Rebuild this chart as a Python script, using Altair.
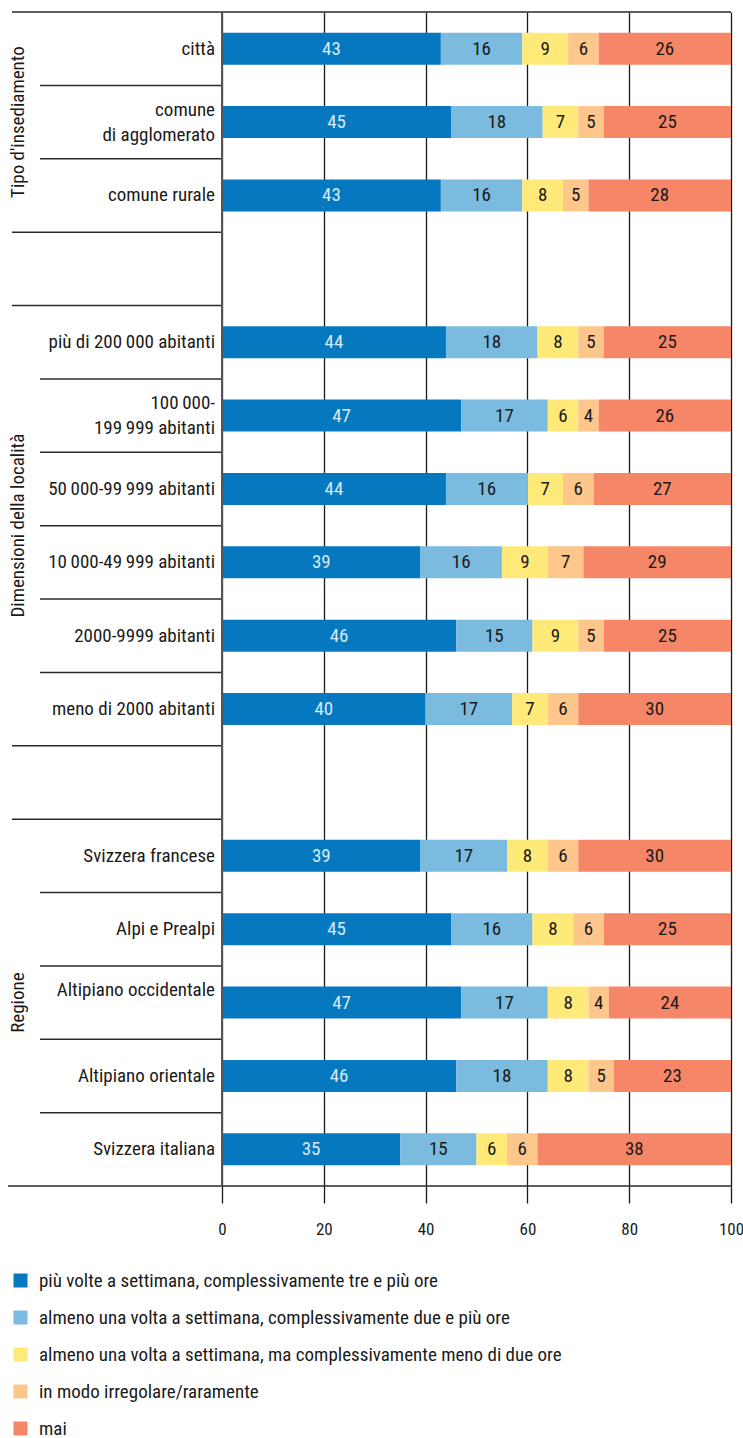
import altair as alt
import pandas as pd

# Row labels, grouped; a blank row separates consecutive groups
group_titles = ["Tipo d'insediamento", "Dimensioni della località", "Regione"]
group_labels = [
    ["città", "comune\ndi agglomerato", "comune rurale"],
    [
        "più di 200\u2009000 abitanti",
        "100\u2009000-\n199\u2009999 abitanti",
        "50\u2009000-99\u2009999 abitanti",
        "10\u2009000-49\u2009999 abitanti",
        "2000-9999 abitanti",
        "meno di 2000 abitanti",
    ],
    [
        "Svizzera francese",
        "Alpi e Prealpi",
        "Altipiano occidentale\n",
        "Altipiano orientale",
        "Svizzera italiana",
    ],
]

series_names = [
    "più volte a settimana, complessivamente tre e più ore",
    "almeno una volta a settimana, complessivamente due e più ore",
    "almeno una volta a settimana, ma complessivamente meno di due ore",
    "in modo irregolare/raramente",
    "mai",
]
series_colors = ["#0678bf", "#7bbbdf", "#ffe978", "#fdc68b", "#f58667"]

# Percentages per row, in the row order above
piu_volte_tre_ore = [43, 45, 43, 44, 47, 44, 39, 46, 40, 39, 45, 47, 46, 35]
almeno_due_ore = [16, 18, 16, 18, 17, 16, 16, 15, 17, 17, 16, 17, 18, 15]
meno_di_due_ore = [9, 7, 8, 8, 6, 7, 9, 9, 7, 8, 8, 8, 8, 6]
irregolare = [6, 5, 5, 5, 4, 6, 7, 5, 6, 6, 6, 4, 5, 6]
mai = [26, 25, 28, 25, 26, 27, 29, 25, 30, 30, 25, 24, 23, 38]
series_values = [piu_volte_tre_ore, almeno_due_ore, meno_di_due_ore, irregolare, mai]

FONT = "Liberation Sans Narrow, Arial Narrow, Roboto Condensed, sans-serif"
W, H = 509, 1174

# ---- assign a row slot to every label ----
labels, rows, titles, inner_lines, group_lines = [], [], [], [], []
r = 0
for gi, (title, lbls) in enumerate(zip(group_titles, group_labels)):
    start = r
    group_lines.append(start)
    for j, lab in enumerate(lbls):
        labels.append(lab)
        rows.append(r)
        if j > 0:
            inner_lines.append(r)
        r += 1
    titles.append({"title": title, "y": (start + r) / 2})
    if gi < len(group_titles) - 1:
        group_lines.append(r)
        r += 1
n_rows = r

# multi-line labels: each line becomes its own text, block centred on the row
line_step = 25 / (H / n_rows)
line_recs = []
for lab, row in zip(labels, rows):
    parts = lab.split("\n")
    n = len(parts)
    for j, part in enumerate(parts):
        if part:
            line_recs.append({"label": part, "y": row + 0.5 + (j - (n - 1) / 2) * line_step})
label_df = pd.DataFrame(line_recs)
title_df = pd.DataFrame(titles)
inner_df = pd.DataFrame({"y": inner_lines})
group_df = pd.DataFrame({"y": group_lines})
bottom_df = pd.DataFrame({"y": [n_rows]})

bar_half = 0.218
recs = []
for i, row in enumerate(rows):
    acc = 0
    for k, name in enumerate(series_names):
        v = series_values[k][i]
        recs.append({
            "serie": name,
            "ord": k,
            "value": v,
            "x0": acc,
            "x1": acc + v,
            "mid": acc + v / 2,
            "ya": row + 0.5 - bar_half,
            "yb": row + 0.5 + bar_half,
            "yc": row + 0.5,
            "dark": k == 0,
        })
        acc += v
bars_df = pd.DataFrame(recs)

y_scale = alt.Scale(domain=[0, n_rows], reverse=True, nice=False, zero=False)
x_scale = alt.Scale(domain=[0, 100], nice=False)

bars = alt.Chart(bars_df).mark_bar().encode(
    x=alt.X(
        "x0:Q",
        scale=x_scale,
        axis=alt.Axis(
            values=[0, 20, 40, 60, 80, 100],
            title=None,
            grid=True,
            gridColor="#1a1a1a",
            gridWidth=1.3,
            domain=False,
            tickColor="#1a1a1a",
            tickWidth=1.3,
            tickSize=17,
            labelPadding=18,
            labelFontSize=17,
            labelColor="#1a1a1a",
            labelFont=FONT,
            labelFlush=False,
        ),
    ),
    x2="x1:Q",
    y=alt.Y("ya:Q", scale=y_scale, axis=None),
    y2="yb:Q",
    color=alt.Color(
        "serie:N",
        scale=alt.Scale(domain=series_names, range=series_colors),
        legend=alt.Legend(
            title=None,
            orient="none",
            legendX=-211,
            legendY=1259,
            direction="vertical",
            symbolType="square",
            symbolSize=196,
            symbolStrokeWidth=0,
            labelFontSize=19,
            labelFont=FONT,
            labelColor="#1a1a1a",
            labelOffset=9,
            rowPadding=17,
            padding=0,
            labelLimit=700,
        ),
    ),
    order="ord:Q",
)

seg_text = alt.Chart(bars_df).mark_text(
    fontSize=19, font=FONT, baseline="middle", align="center"
).encode(
    x=alt.X("mid:Q", scale=x_scale),
    y=alt.Y("yc:Q", scale=y_scale),
    text="value:Q",
    color=alt.condition("datum.dark", alt.value("#d6eaf6"), alt.value("#1a1a1a")),
)

row_labels = alt.Chart(label_df).mark_text(
    fontSize=19, font=FONT, align="right", baseline="middle", color="#1a1a1a",
).encode(
    x=alt.value(-7),
    y=alt.Y("y:Q", scale=y_scale),
    text="label:N",
)

group_text = alt.Chart(title_df).mark_text(
    fontSize=19, font=FONT, angle=270, align="center", baseline="middle",
    color="#1a1a1a",
).encode(
    x=alt.value(-204),
    y=alt.Y("y:Q", scale=y_scale),
    text="title:N",
)

inner_rules = alt.Chart(inner_df).mark_rule(color="#2a2a2a", strokeWidth=1.5).encode(
    x=alt.value(-182), x2=alt.value(0), y=alt.Y("y:Q", scale=y_scale)
)
group_rules = alt.Chart(group_df).mark_rule(color="#2a2a2a", strokeWidth=1.5).encode(
    x=alt.value(-210), x2=alt.value(0), y=alt.Y("y:Q", scale=y_scale)
)
top_rule = alt.Chart(pd.DataFrame({"y": [0]})).mark_rule(color="#2a2a2a", strokeWidth=1.5).encode(
    x=alt.value(0), x2=alt.value(W), y=alt.Y("y:Q", scale=y_scale)
)
bottom_rule = alt.Chart(bottom_df).mark_rule(color="#2a2a2a", strokeWidth=1.5).encode(
    x=alt.value(-214), x2=alt.value(W), y=alt.Y("y:Q", scale=y_scale)
)
zero_line = alt.Chart(pd.DataFrame({"x": [0]})).mark_rule(color="#555555", strokeWidth=2).encode(
    x=alt.X("x:Q", scale=x_scale), y=alt.value(0), y2=alt.value(H)
)

chart = alt.layer(
    bars, seg_text, row_labels, group_text,
    inner_rules, group_rules, top_rule, bottom_rule, zero_line,
).properties(
    width=W,
    height=H,
    autosize=alt.AutoSizeParams(type="none"),
    padding={"left": 222, "top": 12, "right": 12, "bottom": 252},
    background="white",
).configure_view(stroke=None).configure_axis(labelFont=FONT)

chart.save("out.html", embed_options={"renderer": "svg", "actions": False})
